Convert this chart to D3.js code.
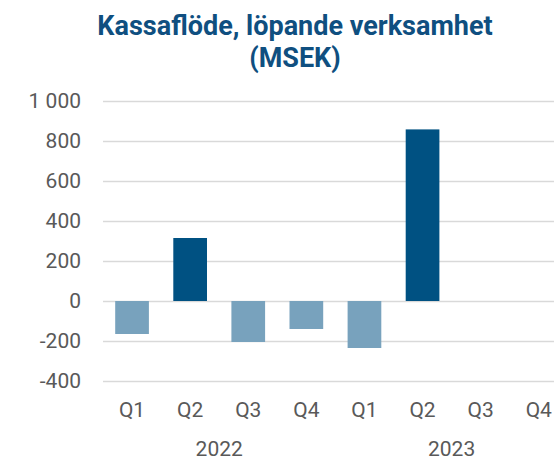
<!DOCTYPE html>
<html>
<head>
<meta charset="utf-8">
<script src="https://cdn.jsdelivr.net/npm/d3@7"></script>
<style>
  body { margin: 0; background: #fff; }
  svg { display: block; font-family: Roboto, "Noto Sans", sans-serif; }
</style>
</head>
<body>
<script>
// data
const quarters = ["Q1", "Q2", "Q3", "Q4", "Q1", "Q2", "Q3", "Q4"]
const years = ["2022", "2023"]
const values = [-165, 315, -205, -140, -235, 858, null, null]
const yTicks = [-400, -200, 0, 200, 400, 600, 800, 1000]

const width = 554, height = 461
const margin = {top: 101, left: 103, bottom: 80}
const plotW = 58.1 * quarters.length

const svg = d3.select("body").append("svg")
    .attr("width", width)
    .attr("height", height)

const x = d3.scaleBand()
    .domain(d3.range(quarters.length))
    .range([margin.left, margin.left + plotW])
    .paddingInner(0.42)
    .paddingOuter(0.21)

const y = d3.scaleLinear()
    .domain([-400, 1000])
    .range([381, margin.top])

// title
svg.append("text")
    .attr("x", 295).attr("y", 35)
    .attr("text-anchor", "middle")
    .attr("font-size", 27).attr("font-weight", "bold")
    .attr("fill", "#0F4F80")
    .selectAll("tspan")
    .data(["Kassaflöde, löpande verksamhet", "(MSEK)"])
    .join("tspan")
        .attr("x", 295)
        .attr("dy", (d, i) => i ? 32 : 0)
        .text(d => d)

// gridlines + y labels (plain hyphen, space as thousands sep)
const fmt = d => String(d).replace(/\B(?=(\d{3})+$)/, " ")
const yAxis = d3.axisLeft(y)
    .tickValues(yTicks)
    .tickSize(-(plotW))
    .tickPadding(22)
    .tickFormat(fmt)

svg.append("g")
    .attr("transform", `translate(${margin.left},0)`)
    .call(yAxis)
    .call(g => g.select(".domain").remove())
    .call(g => g.selectAll(".tick line").attr("stroke", "#D9D9D9").attr("stroke-width", 1.5))
    .call(g => g.selectAll(".tick text")
        .attr("fill", "#595959").attr("font-size", 21)
        .attr("font-family", "Roboto"))

// bars
svg.append("g")
    .selectAll("rect")
    .data(values.map((v, i) => ({v, i})).filter(d => d.v != null))
    .join("rect")
        .attr("x", d => x(d.i))
        .attr("width", x.bandwidth())
        .attr("y", d => y(Math.max(0, d.v)))
        .attr("height", d => Math.abs(y(d.v) - y(0)))
        .attr("fill", d => d.v >= 0 ? "#005182" : "#78A2BD")

// quarter labels
svg.append("g")
    .selectAll("text")
    .data(quarters)
    .join("text")
        .attr("x", (d, i) => x(i) + x.bandwidth() / 2)
        .attr("y", 417)
        .attr("text-anchor", "middle")
        .attr("font-size", 21)
        .attr("fill", "#595959")
        .text(d => d)

// year labels, centred under each group of four
svg.append("g")
    .selectAll("text")
    .data(years)
    .join("text")
        .attr("x", (d, i) => (x(i * 4) + x(i * 4 + 3) + x.bandwidth()) / 2)
        .attr("y", 456)
        .attr("text-anchor", "middle")
        .attr("font-size", 21)
        .attr("fill", "#595959")
        .text(d => d)
</script>
</body>
</html>
